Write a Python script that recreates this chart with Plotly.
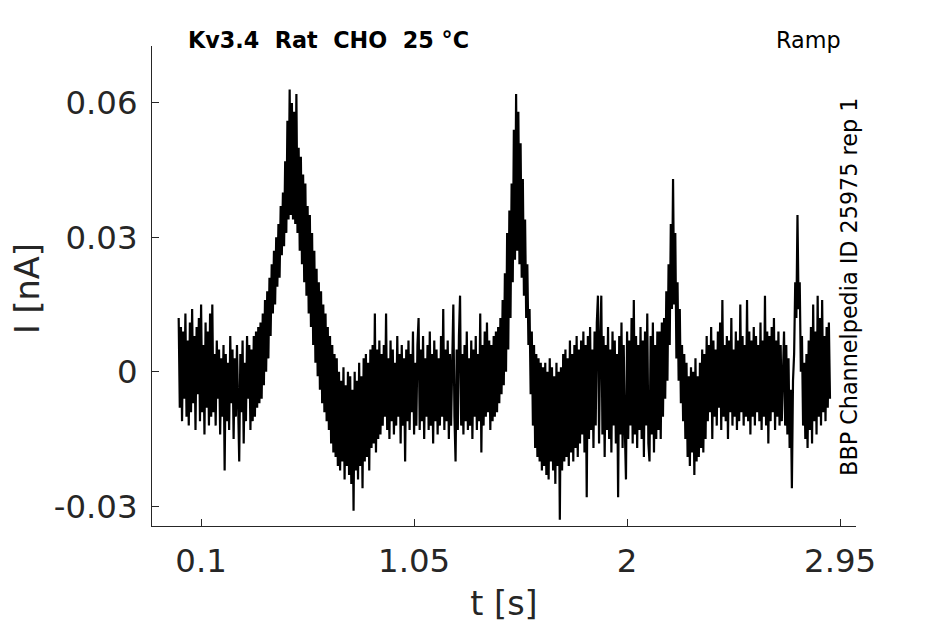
import numpy as np
import plotly.graph_objects as go

# recording: Kv3.4 ramp protocol, current sampled every 5 ms (values in pA)
sample_interval = 0.005  # s

rest_a = [12, -8, 10, -11, 9, -6, 13, -10, 7, -12,
          11, -9, 14, -7, 8, -13, 10, -5, 12, -11,
          15, -9, 6, -14, 11, -8, 9, -12, 13, -10,
          15, -9, 4, -12, 7, -6, 5, -14, 3, -10,
          6, -22, 4, -11, 2, -13, 8, -7, 5, -15,
          3, -10, 6, -12, -20, 4, -9, 7, -16, 2,
          -11, 8, -6]
ramp_1 = [6, -13, 5, -11, 8, -10, 9, -8, 10, -7,
          11, -6, 13, -3, 16, 0, 18, 3, 21, 8,
          24, 13, 27, 15, 30, 19, 33, 21, 37, 26,
          40, 28, 47, 31, 56, 34, 63, 35, 60, 34,
          58, 33, 62, 31, 50, 27, 48, 24, 44, 20,
          42, 17, 37, 13, 35, 10, 31, 6, 27, 2,
          23, -1, 20, -4, 18, -7, 15, -9, 13, -11,
          10, -13, 8, -16, 6, -18, 4, -19, 3, -21,
          0, -22, -2, -20, 1, -24, -3, -21, 0, -23,
          -1, -25, -4, -31, 0, -22, -2, -24, 2, -21,
          -1, -26, 3, -20, 4, -19, 2, -22, 5, -17,
          6, -16, 13, -18, 5, -15, 7]
rest_b = [-14, 4, -12, 6, -10, 13, -13, 3, -15, 7,
          -11, 5, -14, 2, -12, 8, -10, 4, -16, 6,
          -12, 3, -20, 5, -11, 7, -13, 4, -9, 9,
          -14, 2, -12, 6, 12, -13, 5, -11, 8, -15,
          3, -10, 6, -13, 9, -12, 4, -16, 7, -11,
          5, -14, 3, -12, 8, -10, 14, -13, 5, -11,
          7, -15, 4, -12, 6, 15, -10, -20, 5, -13,
          8, 17, -12, 4, -14, 6, -11, 9, -13, 3,
          -12, 7, -15, 5, -10, 8, -13, 4, -11, 13,
          -18, 6, -12, 9, -10, 11, -9]
ramp_2 = [7, -13, 6, -11, 8, -10, 9, -9, 10, -7,
          12, -5, 16, -3, 22, 0, 31, 5, 36, 12,
          42, 20, 54, 25, 62, 27, 58, 24, 51, 21,
          43, 17, 34, 12, 24, 6, 14, -5, 9, -12,
          6, -17, 4, -19, 3, -20, 2, -22, 1, -21,
          2, -23, 0, -24, 3, -20, 1, -22, -1, -25,
          2, -21, 0, -33, 1, -22, 4, -20, 5, -19,
          3, -21, 7, -18, 4, -20, 6, -17, 8, -19,
          5]
rest_c = [-16, 7, -14, 9, -18, 6, -28, 8, -15, 10,
          -13, 5, -17, 9, -12, 11, 17, -16, 7, 17,
          -14, 8, -19, 6, -13, 10, -15, 5, -18, 9,
          -12, 7, -16, 4, -28, 8, -14, 11, -17, 6,
          -13, -24, 9, -15, 7, -12, 12, -16, 16, -14,
          8, -17, 6, -13, 10, -15, 7, -19, 9, -12,
          13, -16, -20, 8, -14, 11, -18, 6, -15, 9,
          -13]
ramp_3 = [9, -15, 11, -10, 12, -6, 18, -2, 24, 6,
          33, 14, 43, 15, 31, 3, 20, -2, 14, -7,
          6, -11, 4, -15, 2, -19, -1, -21, 1, -18,
          0, -23, 3, -20, -1, -19, 2, -17, 5, -18,
          4, -15]
rest_d = [8, -11, 6, -9, 10, -15, 7, -10, 5, -12,
          9, -8, 11, -13, 16, -10, 6, -11, 8, -15,
          7, -9, 12, -12, 5, -10, 9, -13, 7, -11,
          15, -9, 8, -12, 6, -10, 16, -11, 9, -14,
          7, -10, 10, -12, 8, -9, 6, -11, 11, -13,
          7, -10, 17, -12, 9, -16, 8, -11, 10, -9,
          12, -13, 7, -10, 9, -12, 6, -11, 4]
ramp_4 = [9, -12, 6, -14, 3, -17, -4, -26, -2, 4,
          20, 12, 35, 14, 20, 0, 8, -12, 2]
rest_e = [-15, 4, -17, 7, -13, 10, -16, 15, -11, 9,
          -14, 17, -10, 12, -12, 16, -9, 8, -11, 10,
          -8, 11, -6]

x_ticks = [0.1, 1.05, 2, 2.95]
x_ticktext = ["0.1", "1.05", "2", "2.95"]
y_ticks = [-0.03, 0, 0.03, 0.06]
y_ticktext = ["-0.03", "0", "0.03", "0.06"]

current_pa = rest_a + ramp_1 + rest_b + ramp_2 + rest_c + ramp_3 + rest_d + ramp_4 + rest_e
current_na = np.array(current_pa) / 1000.0
t = np.arange(len(current_na)) * sample_interval

txt = "#262626"
font = "DejaVu Sans"

fig = go.Figure()
fig.add_trace(go.Scatter(x=t, y=current_na, mode="lines",
                         line=dict(color="black", width=2.2),
                         showlegend=False, hoverinfo="skip"))

# page adds an 8px body margin, so the figure is shifted by 8px
fig.update_layout(
    width=937, height=616,
    paper_bgcolor="white", plot_bgcolor="white",
    margin=dict(l=144, r=89, t=38, b=98),
    font=dict(family=font, color=txt),
    xaxis=dict(range=[-0.119, 3.021], tickvals=x_ticks, ticktext=x_ticktext,
               showgrid=False, zeroline=False, showline=True, automargin=False,
               linecolor=txt, linewidth=1, ticks="inside", ticklen=7,
               tickcolor=txt, tickfont=dict(size=32.4, color=txt),
               ticklabelstandoff=6,
               title=dict(text="t [s]", font=dict(size=33.5, color=txt), standoff=12)),
    yaxis=dict(range=[-0.0344, 0.0727], tickvals=y_ticks, ticktext=y_ticktext,
               showgrid=False, zeroline=False, showline=True, automargin=False,
               linecolor=txt, linewidth=1, ticks="inside", ticklen=7,
               tickcolor=txt, tickfont=dict(size=32.4, color=txt),
               ticklabelstandoff=7),
)

# y title as annotation so it can sit close to the left edge
fig.add_annotation(text="I [nA]", xref="paper", yref="paper", x=-0.176, y=0.494,
                   xanchor="center", yanchor="middle", textangle=-90, showarrow=False,
                   font=dict(size=33.5, color=txt, family=font))
fig.add_annotation(text="<b>Kv3.4\u00a0\u00a0Rat\u00a0\u00a0CHO\u00a0\u00a025\u00a0°C</b>",
                   xref="paper", yref="paper", x=0.2514, y=1.0125,
                   xanchor="center", yanchor="middle", showarrow=False,
                   font=dict(size=22.3, color="black", family=font))
fig.add_annotation(text="Ramp", xref="paper", yref="paper", x=0.932, y=1.0125,
                   xanchor="center", yanchor="middle", showarrow=False,
                   font=dict(size=22.3, color="black", family=font))
fig.add_annotation(text="BBP Channelpedia ID 25975 rep 1", xref="paper", yref="paper",
                   x=0.990, y=0.498, xanchor="center", yanchor="middle",
                   textangle=-90, showarrow=False,
                   font=dict(size=22.3, color="black", family=font))

fig.write_html("out.html")
